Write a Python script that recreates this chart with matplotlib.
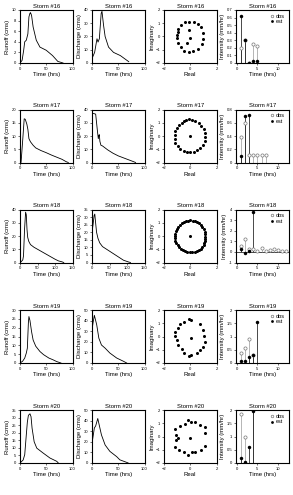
import matplotlib
matplotlib.use("Agg")
import matplotlib.pyplot as plt

plt.rcParams['font.family'] = ['Liberation Sans', 'DejaVu Sans']

storms = [16, 17, 18, 19, 20]

# runoff hydrographs (time in hrs, runoff in cms)
runoff_t = {
    16: [0, 4, 7, 9, 12, 15, 17, 19, 20, 22, 25, 31, 38, 50, 62, 72, 82],
    17: [0, 2, 5, 8, 10, 13, 15, 17, 20, 25, 30, 40, 50, 60, 70, 80, 88, 92],
    18: [0, 3, 8, 10, 13, 16, 18, 20, 22, 25, 30, 40, 50, 60, 70, 80, 90, 100, 110, 120, 125],
    19: [0, 5, 9, 12, 14, 16, 17, 19, 22, 25, 30, 38, 45, 55, 63, 70, 78],
    20: [0, 6, 9, 12, 14, 16, 19, 21, 23, 27, 32, 44, 57, 70, 73],
}
runoff_q = {
    16: [0, 0.5, 2.4, 4, 4.3, 5.5, 8.7, 9.4, 9.5, 9, 6.8, 4.3, 3, 2.4, 1.4, 0.3, 0],
    17: [0, 0, 8, 16.5, 16.3, 14.5, 12.5, 9, 7.8, 6.5, 5.5, 4.5, 3.7, 2.8, 2, 1.2, 0.3, 0],
    18: [0, 0.5, 2, 5, 25, 38, 36, 25, 19, 16, 13.5, 11.5, 10, 8.5, 7, 5.5, 4, 2.5, 1.2, 0.5, 0],
    19: [0, 1, 2.8, 5.6, 8.4, 23, 26.3, 24, 17.8, 13, 9.5, 6.5, 4.7, 2.8, 1.8, 0.8, 0],
    20: [0, 2, 5.5, 18.6, 27, 31.5, 32.5, 30.6, 23, 14, 9.8, 6.6, 3.3, 1.1, 0],
}
runoff_ylim = {16: 10, 17: 20, 18: 40, 19: 30, 20: 35}
runoff_yticks = {
    16: [0, 2, 4, 6, 8, 10],
    17: [0, 5, 10, 15, 20],
    18: [0, 10, 20, 30, 40],
    19: [0, 5, 10, 15, 20, 25, 30],
    20: [0, 5, 10, 15, 20, 25, 30, 35],
}

# discharge hydrographs
dis_t = {
    16: [1, 5, 9.5, 11.5, 14, 17.5, 19, 22, 25, 31.5, 41, 54, 63, 70],
    17: [0, 3, 7, 10, 12, 13, 14, 15, 17, 20, 25, 30, 40, 50, 60, 70, 80, 83],
    18: [0, 3, 6, 8, 10, 13, 17, 22, 30, 40, 50, 60, 70, 80, 90, 100, 105, 110],
    19: [0, 2, 4.5, 9, 13, 18, 25, 34, 47, 60, 66],
    20: [0, 4.5, 7, 11, 13, 18, 25, 34, 47, 53, 66, 69],
}
dis_q = {
    16: [4.3, 8, 18.3, 15.8, 18.3, 37.5, 39, 28.5, 20, 12, 8, 5.6, 3, 1],
    17: [37, 37, 36.5, 25, 18, 20.5, 21, 16, 13, 12.5, 11, 9.5, 7, 5, 3.5, 2, 0.5, 0],
    18: [20, 25, 31, 32, 27, 20, 16, 13, 10.5, 9, 7.5, 6, 4.5, 3, 1.5, 0.7, 0.3, 0],
    19: [31, 38, 45, 36, 23.5, 17, 14, 9.4, 4.7, 1.6, 0],
    20: [18.5, 33, 35, 42, 37.5, 26.5, 17, 11, 6, 3, 0.6, 0],
}
dis_xlim = {16: 100, 17: 100, 18: 150, 19: 100, 20: 100}
dis_ylim = {16: 40, 17: 40, 18: 35, 19: 50, 20: 50}
dis_yticks = {
    16: [0, 10, 20, 30, 40],
    17: [0, 10, 20, 30, 40],
    18: [0, 5, 10, 15, 20, 25, 30, 35],
    19: [0, 10, 20, 30, 40, 50],
    20: [0, 10, 20, 30, 40, 50],
}

# poles (real, imaginary)
pole_re = {
    16: [-0.69, -0.39, -0.06, 0.26, 0.62, 0.82, 0.94, 0.94, 0.87, 0.57, 0.24, -0.11, -0.44, -0.74,
         -0.94, -0.99, -0.99, -0.97, -0.92, -0.06, 0.0, -0.24],
    17: [-0.31, -0.13, 0.13, 0.38, 0.64, 0.85, 1.03, 1.15, 1.15, 1.1, 0.95, 0.77, 0.51, 0.26, 0.0,
         -0.26, -0.51, -0.77, -0.97, -1.15, -1.2, -1.2, -1.15, -1.03, -0.85, -0.64, -0.46, 0.0],
    18: [0.0, 0.18, 0.36, 0.53, 0.68, 0.82, 0.93, 1.02, 1.09, 1.12, 1.1, 1.12, 1.12, 1.08, 1.02,
         0.93, 0.8, 0.66, 0.5, 0.33, 0.15, -0.03, -0.21, -0.39, -0.56, -0.71, -0.85, -0.97,
         -1.06, -1.13, -1.17, -1.18, -1.16, -1.11, -1.03, -0.93, -0.8, -0.65, -0.5, -0.33,
         -0.17, 0.0],
    19: [-0.13, 0.08, -0.44, -0.77, -0.95, -1.15, -1.15, -1.03, -0.9, -0.64, -0.44, -0.08, 0.08,
         0.51, 0.72, 0.95, 1.15, 1.08, 0.95, 0.77, 0.05],
    20: [-0.14, -0.42, -0.77, -1.14, 0.09, 0.34, 0.75, 1.1, 1.16, -1.1, -0.92, -1.1, 0.0, -1.2,
         -0.85, -0.47, -0.14, 0.1, 0.35, 0.8, 1.1],
}
pole_im = {
    16: [0.86, 1.06, 1.11, 1.11, 0.96, 0.68, 0.28, -0.2, -0.58, -0.96, -1.11, -1.16, -1.08, -0.83,
         -0.48, -0.15, 0.1, 0.35, 0.6, 0.48, -0.08, -0.48],
    17: [1.22, 1.27, 1.24, 1.16, 0.99, 0.78, 0.53, 0.23, -0.1, -0.41, -0.66, -0.91, -1.09, -1.22,
         -1.24, -1.22, -1.11, -0.96, -0.78, -0.53, -0.23, 0.05, 0.35, 0.61, 0.81, 0.99, 1.14, 0.0],
    18: [1.17, 1.16, 1.12, 1.05, 0.95, 0.82, 0.67, 0.5, 0.32, 0.14, -0.05, -0.22, -0.38, -0.55,
         -0.7, -0.84, -0.96, -1.06, -1.14, -1.19, -1.21, -1.22, -1.2, -1.15, -1.07, -0.97,
         -0.85, -0.7, -0.54, -0.36, -0.18, 0.0, 0.18, 0.36, 0.53, 0.69, 0.83, 0.95, 1.05, 1.12,
         1.16, 0.0],
    19: [1.32, 1.24, 1.11, 0.91, 0.66, 0.35, 0.05, -0.28, -0.61, -0.92, -1.22, -1.47, -1.37, -1.22,
         -1.04, -0.79, -0.41, 0.03, 0.48, 0.91, -0.1],
    20: [1.25, 0.98, 0.8, 0.6, 1.08, 1.06, 0.89, 0.68, 0.3, 0.12, -0.12, -0.3, -0.08, -0.79, -1.0,
         -1.17, -1.4, -1.2, -1.2, -1.0, -0.7],
}

# rainfall intensity, observed and estimated
obs_t = {16: [1, 2, 3, 4, 5], 17: [1, 2, 3, 4, 5, 6, 7],
         18: [1, 2, 3, 4, 5, 6, 7, 8, 9, 10, 11, 12], 19: [1, 2, 3, 4], 20: [1, 2, 4]}
obs_i = {
    16: [0.2, 0.3, 0.0, 0.25, 0.22],
    17: [0.38, 0.6, 0.12, 0.12, 0.12, 0.12, 0.12],
    18: [0.57, 1.23, 0.28, 0.28, 0.1, 0.4, 0.1, 0.2, 0.25, 0.2, 0.1, 0.1],
    19: [0.39, 0.58, 0.9, 0.32],
    20: [1.84, 0.97, 2.6],
}
est_t = {16: [1, 2, 3, 4, 5], 17: [1, 2, 3], 18: [1, 2, 3, 4], 19: [1, 2, 3, 4, 5],
         20: [1, 2, 3, 4]}
est_i = {
    16: [0.62, 0.31, 0.0, 0.03, 0.03],
    17: [0.1, 0.7, 0.72],
    18: [0.25, -0.06, 0.1, 3.77],
    19: [0.08, 0.08, 0.23, 0.29, 1.53],
    20: [0.18, 0.04, 0.6, 1.98],
}
int_ylim = {16: (0, 0.7), 17: (0, 0.8), 18: (-1, 4), 19: (0, 2), 20: (0, 2)}
int_yticks = {
    16: [0, 0.1, 0.2, 0.3, 0.4, 0.5, 0.6, 0.7],
    17: [0, 0.2, 0.4, 0.6, 0.8],
    18: [-1, 0, 1, 2, 3, 4],
    19: [0, 0.5, 1, 1.5, 2],
    20: [0, 0.5, 1, 1.5, 2],
}

W, H = 293, 495
fig = plt.figure(figsize=(W / 100, H / 100), dpi=100)

col_left = [20, 92, 164, 236]
row_top = [10, 109.5, 209.5, 310, 410]
aw, ah = 52.5, 53

tfs = 4.2
lfs = 4.3
kfs = 3.0


def make_ax(c, r):
    ax = fig.add_axes([col_left[c] / W, 1 - (row_top[r] + ah) / H, aw / W, ah / H])
    ax.tick_params(labelsize=kfs, length=1.5, width=0.4, pad=1.2)
    for s in ax.spines.values():
        s.set_linewidth(0.8)
    return ax


def fmt(v):
    return ('%g' % v)


for r, s in enumerate(storms):
    name = 'Storm #%d' % s
    xt = [0, 50, 100] if dis_xlim[s] == 100 else [0, 50, 100, 150]

    ax = make_ax(0, r)
    ax.plot(runoff_t[s], runoff_q[s], color='black', lw=0.6)
    ax.set_xlim(0, dis_xlim[s])
    ax.set_ylim(0, runoff_ylim[s])
    ax.set_yticks(runoff_yticks[s])
    ax.set_xticks(xt)
    ax.set_title(name, fontsize=tfs, pad=1.5)
    ax.set_xlabel('Time (hrs)', fontsize=lfs, labelpad=1)
    ax.set_ylabel('Runoff (cms)', fontsize=lfs, labelpad=1)

    ax = make_ax(1, r)
    ax.plot(dis_t[s], dis_q[s], color='black', lw=0.6)
    ax.set_xlim(0, dis_xlim[s])
    ax.set_ylim(0, dis_ylim[s])
    ax.set_yticks(dis_yticks[s])
    ax.set_xticks(xt)
    ax.set_title(name, fontsize=tfs, pad=1.5)
    ax.set_xlabel('Time (hrs)', fontsize=lfs, labelpad=1)
    ax.set_ylabel('Discharge (cms)', fontsize=lfs, labelpad=1)

    ax = make_ax(2, r)
    ax.plot(pole_re[s], pole_im[s], 'o', color='black', ms=2.2, mew=0)
    ax.set_xlim(-2, 2)
    ax.set_ylim(-2, 2)
    ax.set_xticks([-2, 0, 2])
    ax.set_yticks([-2, -1, 0, 1, 2])
    ax.set_title(name, fontsize=tfs, pad=1.5)
    ax.set_xlabel('Real', fontsize=lfs, labelpad=1)
    ax.set_ylabel('Imaginary', fontsize=lfs, labelpad=1)

    ax = make_ax(3, r)
    lo, hi = int_ylim[s]
    ax.axhline(0, color='black', lw=0.5)
    ax.vlines(obs_t[s], 0, obs_i[s], color='#999999', lw=0.5)
    ax.vlines(est_t[s], 0, est_i[s], color='black', lw=0.5)
    ax.plot(obs_t[s], obs_i[s], 'o', mfc='white', mec='#777777', ms=2.3, mew=0.5, label='obs')
    ax.plot(est_t[s], est_i[s], 'o', color='black', ms=2.5, mew=0, label='est')
    ax.set_xlim(-0.2, 12.5)
    ax.set_ylim(lo, hi)
    ax.set_xticks([0, 5, 10])
    ax.set_yticks(int_yticks[s])
    ax.set_yticklabels([fmt(v) for v in int_yticks[s]])
    ax.set_title(name, fontsize=tfs, pad=1.5)
    ax.set_xlabel('Time (hrs)', fontsize=lfs, labelpad=1)
    ax.set_ylabel('Intensity (mm/hr)', fontsize=lfs, labelpad=1)
    ax.legend(loc='upper right', fontsize=4.0, frameon=False, handlelength=0.6,
              handletextpad=0.3, borderpad=0.2, labelspacing=0.1, markerscale=0.8)

fig.savefig('out.png', dpi=100)
